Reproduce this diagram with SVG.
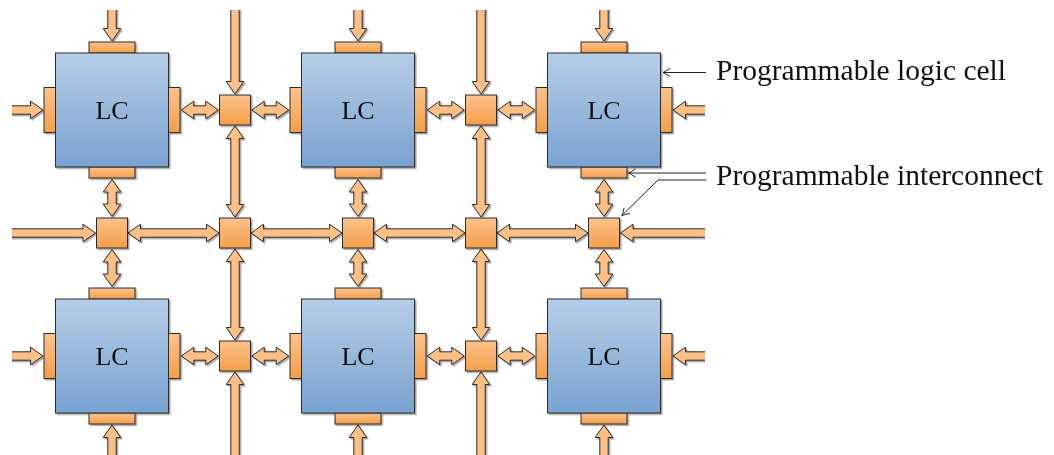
<svg xmlns="http://www.w3.org/2000/svg" width="1054" height="455" viewBox="0 0 1054 455">
<style>
.arr{fill:#FCBF86;stroke:#2a2a2a;stroke-width:1}
.pad{fill:url(#gPad);stroke:#2a2a2a;stroke-width:1}
.lc{fill:url(#gLC);stroke:#2a2a2a;stroke-width:1}
.sw{fill:url(#gPad);stroke:#2a2a2a;stroke-width:1}
.lct{font-family:"Liberation Serif","DejaVu Serif",serif;font-size:26px;fill:#111;text-anchor:middle}
.lbl{font-family:"Liberation Serif","DejaVu Serif",serif;font-size:29.5px;fill:#111}
.lead{fill:none;stroke:#222;stroke-width:1}
</style>
<defs>
<linearGradient id="gPad" x1="0" y1="0" x2="0" y2="1">
<stop offset="0" stop-color="#FCC28E"/>
<stop offset="1" stop-color="#F59F48"/>
</linearGradient>
<linearGradient id="gLC" x1="0" y1="0" x2="0" y2="1">
<stop offset="0" stop-color="#B6CEE7"/>
<stop offset="1" stop-color="#79A2D0"/>
</linearGradient>
<filter id="sh" x="-20%" y="-20%" width="140%" height="140%">
<feDropShadow dx="1.5" dy="1.5" stdDeviation="0.6" flood-color="#000" flood-opacity="0.35"/>
</filter>
<clipPath id="clip"><rect x="12" y="10" width="693" height="445"/></clipPath>
<path id="sa" class="arr" d="M-130,-4.2 L-12.5,-4.2 L-12.5,-8.8 L0,0 L-12.5,8.8 L-12.5,4.2 L-130,4.2 Z"/>
<path id="ds" class="arr" d="M-18.5,0 L-6,-8.8 L-6,-4.2 L6,-4.2 L6,-8.8 L18.5,0 L6,8.8 L6,4.2 L-6,4.2 L-6,8.8 Z"/>
<path id="dl" class="arr" d="M-45.5,0 L-33,-8.8 L-33,-4.2 L33,-4.2 L33,-8.8 L45.5,0 L33,8.8 L33,4.2 L-33,4.2 L-33,8.8 Z"/>
<marker id="to" markerUnits="userSpaceOnUse" markerWidth="12" markerHeight="12" viewBox="-10 -6 12 12" refX="0" refY="0" orient="auto" overflow="visible">
<path d="M-7,-4 Q-2,-0.8 0,0 Q-2,0.8 -7,4" fill="none" stroke="#222" stroke-width="1"/>
</marker>
</defs>
<rect width="1054" height="455" fill="#fff"/>
<g id="connectors" clip-path="url(#clip)">
<g filter="url(#sh)">
<use href="#sa" transform="translate(43,110)"/>
<use href="#ds" transform="translate(199.75,110)"/>
<use href="#ds" transform="translate(270.25,110)"/>
<use href="#ds" transform="translate(445.75,110)"/>
<use href="#ds" transform="translate(516.25,110)"/>
<use href="#sa" transform="translate(673,110) rotate(180)"/>
<use href="#sa" transform="translate(43,356)"/>
<use href="#ds" transform="translate(199.75,356)"/>
<use href="#ds" transform="translate(270.25,356)"/>
<use href="#ds" transform="translate(445.75,356)"/>
<use href="#ds" transform="translate(516.25,356)"/>
<use href="#sa" transform="translate(673,356) rotate(180)"/>
<use href="#sa" transform="translate(95.5,233)"/>
<use href="#dl" transform="translate(173.5,233)"/>
<use href="#dl" transform="translate(296.5,233)"/>
<use href="#dl" transform="translate(419.5,233)"/>
<use href="#dl" transform="translate(542.5,233)"/>
<use href="#sa" transform="translate(620.5,233) rotate(180)"/>
<use href="#sa" transform="translate(112,41) rotate(90)"/>
<use href="#ds" transform="translate(112,198) rotate(90)"/>
<use href="#ds" transform="translate(112,268) rotate(90)"/>
<use href="#sa" transform="translate(112,425) rotate(-90)"/>
<use href="#sa" transform="translate(358,41) rotate(90)"/>
<use href="#ds" transform="translate(358,198) rotate(90)"/>
<use href="#ds" transform="translate(358,268) rotate(90)"/>
<use href="#sa" transform="translate(358,425) rotate(-90)"/>
<use href="#sa" transform="translate(604,41) rotate(90)"/>
<use href="#ds" transform="translate(604,198) rotate(90)"/>
<use href="#ds" transform="translate(604,268) rotate(90)"/>
<use href="#sa" transform="translate(604,425) rotate(-90)"/>
<use href="#sa" transform="translate(235,94) rotate(90)"/>
<use href="#dl" transform="translate(235,171.5) rotate(90)"/>
<use href="#dl" transform="translate(235,294.5) rotate(90)"/>
<use href="#sa" transform="translate(235,372) rotate(-90)"/>
<use href="#sa" transform="translate(481,94) rotate(90)"/>
<use href="#dl" transform="translate(481,171.5) rotate(90)"/>
<use href="#dl" transform="translate(481,294.5) rotate(90)"/>
<use href="#sa" transform="translate(481,372) rotate(-90)"/>
</g>
</g>
<g id="lc1" transform="translate(112,110)" filter="url(#sh)">
<rect class="pad" x="-23" y="-68" width="46" height="11"/><rect class="pad" x="-23" y="57" width="46" height="11"/>
<rect class="pad" x="-68" y="-22.5" width="11.5" height="45"/><rect class="pad" x="56.5" y="-22.5" width="11.5" height="45"/>
<rect class="lc" x="-56.5" y="-57" width="113" height="114"/>
<text class="lct" x="0" y="9">LC</text>
</g>
<g id="lc2" transform="translate(358,110)" filter="url(#sh)">
<rect class="pad" x="-23" y="-68" width="46" height="11"/><rect class="pad" x="-23" y="57" width="46" height="11"/>
<rect class="pad" x="-68" y="-22.5" width="11.5" height="45"/><rect class="pad" x="56.5" y="-22.5" width="11.5" height="45"/>
<rect class="lc" x="-56.5" y="-57" width="113" height="114"/>
<text class="lct" x="0" y="9">LC</text>
</g>
<g id="lc3" transform="translate(604,110)" filter="url(#sh)">
<rect class="pad" x="-23" y="-68" width="46" height="11"/><rect class="pad" x="-23" y="57" width="46" height="11"/>
<rect class="pad" x="-68" y="-22.5" width="11.5" height="45"/><rect class="pad" x="56.5" y="-22.5" width="11.5" height="45"/>
<rect class="lc" x="-56.5" y="-57" width="113" height="114"/>
<text class="lct" x="0" y="9">LC</text>
</g>
<g id="lc4" transform="translate(112,356)" filter="url(#sh)">
<rect class="pad" x="-23" y="-68" width="46" height="11"/><rect class="pad" x="-23" y="57" width="46" height="11"/>
<rect class="pad" x="-68" y="-22.5" width="11.5" height="45"/><rect class="pad" x="56.5" y="-22.5" width="11.5" height="45"/>
<rect class="lc" x="-56.5" y="-57" width="113" height="114"/>
<text class="lct" x="0" y="9">LC</text>
</g>
<g id="lc5" transform="translate(358,356)" filter="url(#sh)">
<rect class="pad" x="-23" y="-68" width="46" height="11"/><rect class="pad" x="-23" y="57" width="46" height="11"/>
<rect class="pad" x="-68" y="-22.5" width="11.5" height="45"/><rect class="pad" x="56.5" y="-22.5" width="11.5" height="45"/>
<rect class="lc" x="-56.5" y="-57" width="113" height="114"/>
<text class="lct" x="0" y="9">LC</text>
</g>
<g id="lc6" transform="translate(604,356)" filter="url(#sh)">
<rect class="pad" x="-23" y="-68" width="46" height="11"/><rect class="pad" x="-23" y="57" width="46" height="11"/>
<rect class="pad" x="-68" y="-22.5" width="11.5" height="45"/><rect class="pad" x="56.5" y="-22.5" width="11.5" height="45"/>
<rect class="lc" x="-56.5" y="-57" width="113" height="114"/>
<text class="lct" x="0" y="9">LC</text>
</g>
<g id="sw1" filter="url(#sh)"><rect class="sw" x="219.5" y="95" width="31" height="30"/></g>
<g id="sw2" filter="url(#sh)"><rect class="sw" x="465.5" y="95" width="31" height="30"/></g>
<g id="sw3" filter="url(#sh)"><rect class="sw" x="96.5" y="218" width="31" height="30"/></g>
<g id="sw4" filter="url(#sh)"><rect class="sw" x="219.5" y="218" width="31" height="30"/></g>
<g id="sw5" filter="url(#sh)"><rect class="sw" x="342.5" y="218" width="31" height="30"/></g>
<g id="sw6" filter="url(#sh)"><rect class="sw" x="465.5" y="218" width="31" height="30"/></g>
<g id="sw7" filter="url(#sh)"><rect class="sw" x="588.5" y="218" width="31" height="30"/></g>
<g id="sw8" filter="url(#sh)"><rect class="sw" x="219.5" y="341" width="31" height="30"/></g>
<g id="sw9" filter="url(#sh)"><rect class="sw" x="465.5" y="341" width="31" height="30"/></g>
<g id="labels">
<path class="lead" d="M706,72.5 H663" marker-end="url(#to)"/>
<path class="lead" d="M706,173 H628.5" marker-end="url(#to)"/>
<path class="lead" d="M706,180 H658 L622,215.5" marker-end="url(#to)"/>
<text class="lbl" x="716" y="80">Programmable logic cell</text>
<text class="lbl" x="716" y="185">Programmable interconnect</text>
</g>
</svg>
